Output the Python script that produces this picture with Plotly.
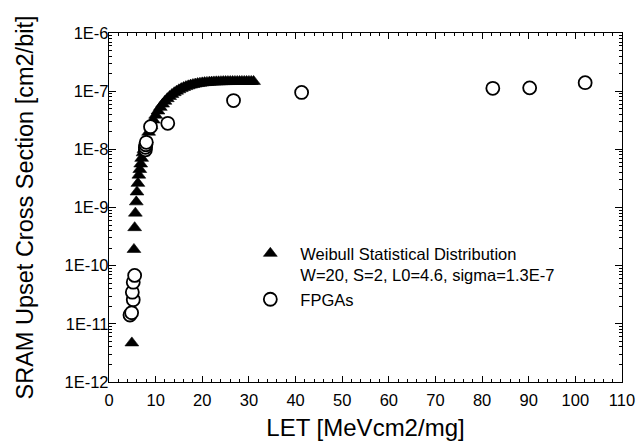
import plotly.graph_objects as go

# Weibull statistical distribution (triangles)
weibull_let = [4.9, 5.35, 5.5, 5.65, 5.85, 6.0, 6.2, 6.4, 6.6, 6.8, 7.0, 7.3,
               7.5, 8.0, 8.5, 9.0, 9.5, 10.0, 10.5, 11.0, 11.5, 12.0, 12.5, 13.0,
               13.5, 14.0, 14.5, 15.0, 15.5, 16.0, 16.5, 17.0, 17.5, 18.0, 18.5,
               19.0, 19.5, 20.0, 20.5, 21.0, 21.5, 22.0, 22.5, 23.0, 23.5, 24.0,
               24.5, 25.0, 25.5, 26.0, 26.5, 27.0, 27.5, 28.0, 28.5, 29.0, 29.5,
               30.0, 30.5, 31.0]
weibull_xs = [4.7e-12, 1.9e-10, 4.5e-10, 8.0e-10, 1.25e-9, 1.85e-9, 2.6e-9, 3.6e-9,
              4.5e-9, 5.6e-9, 7.0e-9, 8.7e-9,
              9.9e-9, 1.45e-8, 1.97e-8, 2.55e-8, 3.19e-8, 3.86e-8, 4.56e-8, 5.27e-8,
              6.0e-8, 6.72e-8, 7.43e-8, 8.12e-8, 8.78e-8, 9.42e-8, 1.00e-7, 1.057e-7,
              1.108e-7, 1.155e-7, 1.198e-7, 1.236e-7, 1.271e-7, 1.301e-7, 1.328e-7,
              1.351e-7, 1.371e-7, 1.389e-7, 1.403e-7, 1.416e-7, 1.426e-7, 1.435e-7,
              1.442e-7, 1.448e-7, 1.452e-7, 1.456e-7, 1.459e-7, 1.462e-7, 1.464e-7,
              1.465e-7, 1.466e-7, 1.467e-7, 1.468e-7, 1.468e-7, 1.469e-7, 1.469e-7,
              1.469e-7, 1.47e-7, 1.47e-7, 1.47e-7]

# FPGA measurements (open circles)
fpga_let = [4.5, 4.85, 5.2, 5.0, 5.2, 5.5, 7.8, 7.8, 7.9, 8.0, 8.9, 12.6,
            26.7, 41.3, 82.3, 90.2, 102.1]
fpga_xs = [1.42e-11, 1.55e-11, 2.6e-11, 3.5e-11, 5.2e-11, 6.8e-11,
           9.8e-9, 1.08e-8, 1.2e-8, 1.32e-8, 2.45e-8, 2.8e-8,
           6.9e-8, 9.5e-8, 1.12e-7, 1.14e-7, 1.4e-7]

y_tick_vals = [1e-12, 1e-11, 1e-10, 1e-9, 1e-8, 1e-7, 1e-6]
y_tick_text = ["1E-12", "1E-11", "1E-10", "1E-9", "1E-8", "1E-7", "1E-6"]
x_tick_vals = [0, 10, 20, 30, 40, 50, 60, 70, 80, 90, 100, 110]

weibull_name = "Weibull Statistical Distribution<br>W=20, S=2, L0=4.6, sigma=1.3E-7"
fpga_name = "FPGAs"
x_title = "LET [MeVcm2/mg]"
y_title = "SRAM Upset Cross Section [cm2/bit]"

FONT = "Arial, 'Liberation Sans', sans-serif"

fig = go.Figure()
fig.add_trace(go.Scatter(
    x=weibull_let, y=weibull_xs, mode="markers", name=weibull_name,
    marker=dict(symbol="triangle-up", size=12, color="black",
                line=dict(color="black", width=0.6)),
))
fig.add_trace(go.Scatter(
    x=fpga_let, y=fpga_xs, mode="markers", name=fpga_name,
    marker=dict(symbol="circle", size=13, color="white",
                line=dict(color="black", width=1.8)),
))

axis_common = dict(
    showline=True, linecolor="black", linewidth=1.3, mirror="allticks",
    ticks="inside", tickcolor="black", tickwidth=1, showgrid=False, zeroline=False,
    automargin=False,
    tickfont=dict(family=FONT, size=16.5, color="black"),
)

fig.update_xaxes(
    range=[0, 110], tickvals=x_tick_vals, ticklen=6, ticklabelstandoff=3,
    minor=dict(dtick=2, ticks="inside", ticklen=3, tickcolor="black", showgrid=False),
    title=dict(text=x_title, font=dict(family=FONT, size=24, color="black"), standoff=12),
    **axis_common,
)
fig.update_yaxes(
    type="log", range=[-12, -6], tickvals=y_tick_vals, ticktext=y_tick_text, ticklen=7,
    ticklabelstandoff=-4,
    minor=dict(dtick="D1", ticks="inside", ticklen=3, tickcolor="black", showgrid=False),
    title=dict(text=y_title, font=dict(family=FONT, size=23.5, color="black"), standoff=24),
    **axis_common,
)

fig.update_layout(
    template="none",
    width=639, height=441,
    margin=dict(l=109, r=17, t=33, b=59, autoexpand=False),
    paper_bgcolor="white", plot_bgcolor="white",
    showlegend=True,
    legend=dict(
        x=0.256, y=0.418, xanchor="left", yanchor="top",
        font=dict(family=FONT, size=16.5, color="black"),
        bgcolor="rgba(0,0,0,0)", valign="top", itemwidth=50,
        tracegroupgap=0,
    ),
)

fig.write_html("out.html", config={"displayModeBar": False},
               post_script="document.body.style.margin='0';")
